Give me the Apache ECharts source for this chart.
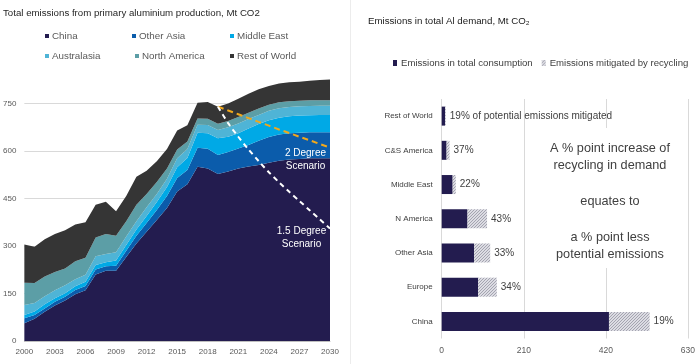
<!DOCTYPE html>
<html><head><meta charset="utf-8">
<script src="https://cdn.jsdelivr.net/npm/echarts@6/dist/echarts.min.js"></script>
<style>html,body{margin:0;padding:0;background:#fff}#c{width:698px;height:364px}</style>
</head><body><div id="c"></div>
<script>
// ---- Left chart data (Mt CO2) ----
const years = ['2000','2001','2002','2003','2004','2005','2006','2007','2008','2009','2010','2011','2012','2013','2014','2015','2016','2017','2018','2019','2020','2021','2022','2023','2024','2025','2026','2027','2028','2029','2030'];
const china        = [56,70,92,112,128,148,160,210,222,222,265,308,345,382,420,472,495,550,545,527,535,545,551,556,563,569,573,575,577,577,577];
const otherAsia    = [16,12,11,12,12,13,14,16,14,16,20,24,28,32,38,43,45,60,62,60,62,63,68,76,81,83,83,83,82,82,82];
const middleEast   = [10,11,13,11,11,12,13,14,13,16,18,20,22,25,28,34,38,48,49,53,48,48,52,53,53,53,54,54,54,55,55];
const australasia  = [32,27,25,25,25,22,22,28,26,26,27,26,27,25,26,28,28,25,26,26,30,31,30,29,30,30,29,29,29,29,29];
const northAmerica = [70,63,63,58,53,57,54,59,63,52,48,52,42,38,33,28,24,20,20,20,20,20,20,20,19,19,18,18,18,17,17];
const restOfWorld  = [121,115,117,120,121,116,112,103,102,78,80,89,74,66,61,60,51,49,53,54,55,58,60,61,59,59,60,60,62,64,66];
const scenario2  = [null,null,null,null,null,null,null,null,null,null,null,null,null,null,null,null,null,null,null,740,728,716,704,692,680,668,657,645,634,622,611];
const scenario15 = [null,null,null,null,null,null,null,null,null,null,null,null,null,null,null,null,null,null,null,740,688,645,605,568,533,501,471,442,413,384,355];
const leftNames = ['China','Other Asia','Middle East','Australasia','North America','Rest of World'];
const leftTicks = [0,150,300,450,600,750];

// ---- Right chart data (Mt CO2) ----
const regions     = ['China','Europe','Other Asia','N America','Middle East','C&S America','Rest of World'];
const consumption = [428,93,83,66,28,12.5,8.5];
const mitigated   = [104,48,41,50,8,7.5,2];
const pctLabels   = ['19%','34%','33%','43%','22%','37%','19% of potential emissions mitigated'];
const rightTicks  = [0,210,420,630];

const FONT = '"Liberation Sans", Arial, sans-serif';
const colors = ['#231c4f','#0b5cab','#00a9e6','#4fb4d6','#5c9ea6','#353535'];

function hatch(){
  const c = document.createElement('canvas'); c.width = 3; c.height = 3;
  const g = c.getContext('2d');
  g.fillStyle = '#dcdce3'; g.fillRect(0,0,3,3);
  g.fillStyle = '#a4a4b0';
  g.fillRect(2,0,1,1); g.fillRect(1,1,1,1); g.fillRect(0,2,1,1);
  return c;
}
const hatchColor = {image: hatch(), repeat: 'repeat'};

const leftData = [china, otherAsia, middleEast, australasia, northAmerica, restOfWorld];
const legPos = [[45,31],[132,31],[230,31],[45,51],[135,51],[230,51]];

const legends = leftNames.map((n,i)=>({
  data:[n], left: legPos[i][0], top: legPos[i][1], icon:'rect', itemWidth:4, itemHeight:4,
  padding:0, textStyle:{fontFamily:FONT, fontSize:9.8, color:'#595959', padding:[0,0,0,-2]}, selectedMode:false
}));
legends.push({
  data:['Emissions in total consumption','Emissions mitigated by recycling'], left:393, top:58, width:320, icon:'rect',
  itemWidth:4, itemHeight:6, itemGap:9, padding:0, selectedMode:false,
  textStyle:{fontFamily:FONT, fontSize:9.6, color:'#404040', padding:[0,0,0,-1]}
});

const series = leftNames.map((n,i)=>({
  name:n, type:'line', stack:'total', xAxisIndex:0, yAxisIndex:0, data:leftData[i],
  symbol:'none', lineStyle:{width:0}, areaStyle:{color:colors[i], opacity:1}, itemStyle:{color:colors[i]},
  z:2, silent:true
}));
series.push({
  name:'2 Degree', type:'line', xAxisIndex:0, yAxisIndex:0, data:scenario2, symbol:'none',
  lineStyle:{color:'#f0a81c', width:2, type:[6,4]}, z:5, silent:true
});
series.push({
  name:'1.5 Degree', type:'line', xAxisIndex:0, yAxisIndex:0, data:scenario15, symbol:'none', smooth:0.3,
  lineStyle:{color:'#ffffff', width:2, type:[5,4]}, z:5, silent:true
});
series.push({
  name:'Emissions in total consumption', type:'bar', stack:'r', xAxisIndex:1, yAxisIndex:1,
  data:consumption, barWidth:19, itemStyle:{color:'#231c4f'}, silent:true
});
series.push({
  name:'Emissions mitigated by recycling', type:'bar', stack:'r', xAxisIndex:1, yAxisIndex:1,
  data:mitigated, barWidth:19, itemStyle:{color:hatchColor}, silent:true,
  label:{show:true, position:'right', distance:4, fontFamily:FONT, fontSize:10, color:'#404040',
    formatter:p=>pctLabels[p.dataIndex]}
});

const option = {
  animation:false,
  backgroundColor:'#ffffff',
  textStyle:{fontFamily:FONT},
  title:[
    {text:'Total emissions from primary aluminium production, Mt CO2', left:3, top:8, padding:0,
     textStyle:{fontFamily:FONT, fontSize:9.7, fontWeight:'normal', color:'#262626'}},
    {text:'Emissions in total Al demand, Mt CO\u2082', left:368, top:16, padding:0,
     textStyle:{fontFamily:FONT, fontSize:9.7, fontWeight:'normal', color:'#1a1a1a'}}
  ],
  legend:legends,
  grid:[
    {left:23.5, right:368, top:56, bottom:23},
    {left:441.7, right:6.3, top:99, bottom:25.5}
  ],
  xAxis:[
    {type:'category', gridIndex:0, data:years, boundaryGap:false,
     axisLine:{lineStyle:{color:'#bfbfbf'}}, axisTick:{show:false},
     axisLabel:{interval:2, fontFamily:FONT, fontSize:8, color:'#595959', margin:7}},
    {type:'value', gridIndex:1, min:rightTicks[0], max:rightTicks[rightTicks.length-1], interval:rightTicks[1]-rightTicks[0],
     axisLine:{show:false}, axisTick:{show:false},
     axisLabel:{fontFamily:FONT, fontSize:8.5, color:'#595959', margin:8},
     splitLine:{lineStyle:{color:'#d9d9d9'}}}
  ],
  yAxis:[
    {type:'value', gridIndex:0, min:leftTicks[0], max:900, interval:leftTicks[1]-leftTicks[0],
     axisLine:{show:false}, axisTick:{show:false},
     axisLabel:{showMaxLabel:false, fontFamily:FONT, fontSize:8, color:'#595959', margin:8},
     splitLine:{showMaxLine:false, showMinLine:false, lineStyle:{color:'#d9d9d9'}}},
    {type:'category', gridIndex:1, data:regions,
     axisLine:{show:false}, axisTick:{show:false},
     axisLabel:{fontFamily:FONT, fontSize:8, color:'#404040', margin:9}}
  ],
  series:series,
  graphic:[
    {type:'line', shape:{x1:350.5, y1:0, x2:350.5, y2:364}, style:{stroke:'#ececec', lineWidth:1}, z:1},
    {type:'text', x:305.5, y:147, z:100, style:{text:'2 Degree\nScenario', fill:'#ffffff', font:'10px '+FONT, align:'center', lineHeight:13}},
    {type:'text', x:301.5, y:225, z:100, style:{text:'1.5 Degree\nScenario', fill:'#ffffff', font:'10px '+FONT, align:'center', lineHeight:13}},
    {type:'rect', shape:{x:546, y:128, width:128, height:140}, style:{fill:'#ffffff'}, z:90},
    {type:'text', x:610, y:201.5, z:100, style:{text:'A % point increase of\nrecycling in demand\n\nequates to\n\na % point less\npotential emissions',
      fill:'#404040', font:'12.7px '+FONT, align:'center', verticalAlign:'middle', lineHeight:17.8}}
  ]
};
const chart = echarts.init(document.getElementById('c'), null, {renderer:'canvas'});
chart.setOption(option);
</script>
</body></html>
